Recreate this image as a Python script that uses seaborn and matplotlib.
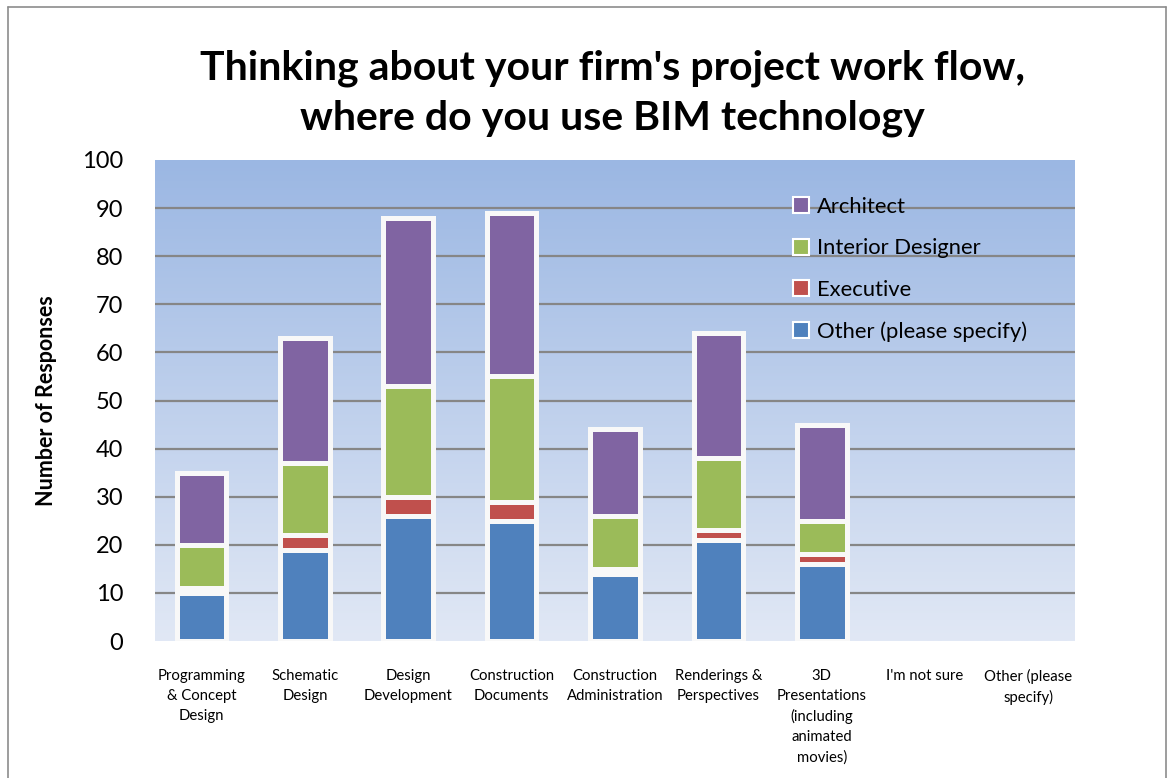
import numpy as np
import matplotlib
matplotlib.use("Agg")
import matplotlib.pyplot as plt
import seaborn as sns
from matplotlib.patches import Patch
from matplotlib.lines import Line2D

stages = ["Programming\n& Concept\nDesign", "Schematic\nDesign", "Design\nDevelopment",
          "Construction\nDocuments", "Construction\nAdministration", "Renderings &\nPerspectives",
          "3D\nPresentations\n(including\nanimated\nmovies)", "I'm not sure", "Other (please\nspecify)"]

# stacked from bottom to top
other = [10, 19, 26, 25, 14, 21, 16, 0, 0]
executive = [1, 3, 4, 4, 1, 2, 2, 0, 0]
interior = [9, 15, 23, 26, 11, 15, 7, 0, 0]
architect = [15, 26, 35, 34, 18, 26, 20, 0, 0]

roles = ["Architect", "Interior Designer", "Executive", "Other (please specify)"]
colors = {"Architect": "#8064A2", "Interior Designer": "#9BBB59",
          "Executive": "#C0504D", "Other (please specify)": "#4F81BD"}

sns.set_style("white")
plt.rcParams["font.family"] = ["Lato", "DejaVu Sans"]
plt.rcParams["text.color"] = "black"
plt.rcParams["axes.labelcolor"] = "black"
plt.rcParams["xtick.color"] = "black"
plt.rcParams["ytick.color"] = "black"

fig = plt.figure(figsize=(11.68, 7.78), dpi=100)
ax = fig.add_axes([155 / 1168, 1 - 641 / 778, 920 / 1168, 481 / 778])

# plot area gradient
grad = np.linspace(0, 1, 256).reshape(-1, 1)
top_c = np.array([0x9B, 0xB7, 0xE3]) / 255
bot_c = np.array([0xE1, 0xE8, 0xF5]) / 255
img = top_c[None, None, :] * (1 - grad[..., None]) + bot_c[None, None, :] * grad[..., None]
ax.imshow(img, extent=[0, 1, 0, 1], transform=ax.transAxes, aspect="auto", zorder=0)

for v in range(10, 100, 10):
    ax.axhline(v, color="#868686", lw=1.6, zorder=1)

# cumulative layers, tallest first so each lower segment sits on top
layers = [architect, interior, executive, other]
cum = np.array(other) + np.array(executive) + np.array(interior) + np.array(architect)
for role, vals in zip(roles, layers):
    sns.barplot(x=stages, y=cum, color=colors[role], saturation=1, width=0.48,
                edgecolor="#f8f8f8", linewidth=3.6, errorbar=None, ax=ax, zorder=3)
    cum = cum - np.array(vals)

for p in ax.patches:
    if p.get_height() == 0:
        p.set_visible(False)

ax.set_xlim(-0.45, 8.45)
ax.set_ylim(0, 100)
ax.set_yticks(range(0, 101, 10))
ax.tick_params(axis="y", length=0, pad=23, labelsize=17)
ax.tick_params(axis="x", length=0, pad=20, labelsize=10.7)
for lab in ax.get_xticklabels():
    lab.set_linespacing(1.54)
for s in ax.spines.values():
    s.set_visible(False)

ax.set_xlabel("")
ax.set_ylabel("Number of Responses", fontsize=15.5, fontweight="bold")
ax.yaxis.set_label_coords(-0.106, 0.5)

handles = [Patch(facecolor=colors[r], edgecolor="white", linewidth=1.5) for r in roles]
ax.legend(handles, roles, loc="upper left", bbox_to_anchor=(773 / 1168, 1 - 177 / 778),
          bbox_transform=fig.transFigure, frameon=False, fontsize=15.8,
          handlelength=0.75, handleheight=0.75, handletextpad=0.35, labelspacing=0.98)

fig.text(612 / 1168, 1 - 93 / 778,
         "Thinking about your firm's project work flow,\nwhere do you use BIM technology",
         ha="center", va="center", fontsize=29.5, fontweight="bold", linespacing=1.42)

# chart border
bc = "#8c8c8c"
fig.add_artist(Line2D([8 / 1168, 8 / 1168], [0, 1 - 7 / 778], color=bc, lw=1.2))
fig.add_artist(Line2D([8 / 1168, 1166 / 1168], [1 - 7 / 778, 1 - 7 / 778], color=bc, lw=1.2))
fig.add_artist(Line2D([1166 / 1168, 1166 / 1168], [0, 1 - 7 / 778], color=bc, lw=1.2))

fig.savefig("out.png", dpi=100)
